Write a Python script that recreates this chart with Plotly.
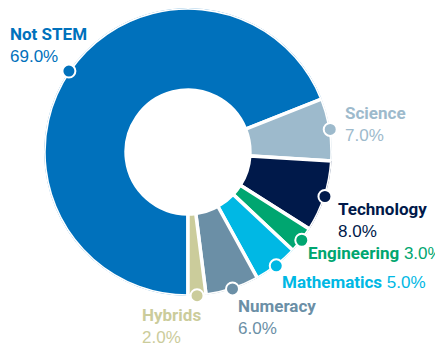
import numpy as np
import plotly.graph_objects as go

# data
labels = ["Not STEM", "Science", "Technology", "Engineering", "Mathematics", "Numeracy", "Hybrids"]
shares = [69.0, 7.0, 8.0, 3.0, 5.0, 6.0, 2.0]
colors = ["#0071bc", "#9dbacc", "#00194a", "#00a670", "#00b8e4", "#6b8fa6", "#cbcc9b"]

W, H = 443, 348
OFF = 8  # page body margin shifts the figure

# label layout: pixel (left, cap top) in the page, name + pct on one line or two
label_pos = [(10, 28), (345, 107), (338, 203), (308, 247), (282, 276), (238, 300), (142, 309)]
one_line = [False, False, False, True, True, False, False]

# angles (clockwise from top), pie starts at 6 o'clock
widths = np.array(shares) / 100 * 360
starts = 180 + np.concatenate([[0], np.cumsum(widths)[:-1]])
mids = (starts + widths / 2) % 360

hole = 0.43

fig = go.Figure()
fig.add_trace(go.Barpolar(
    theta=mids, width=widths, r=[1 - hole] * len(shares), base=hole,
    marker=dict(color=colors, line=dict(color="white", width=3.5)),
    hoverinfo="skip", showlegend=False,
))
fig.add_trace(go.Scatterpolar(
    theta=mids, r=[1] * len(shares), mode="markers", cliponaxis=False,
    marker=dict(color=colors, size=13, line=dict(color="white", width=2)),
    hoverinfo="skip", showlegend=False,
))

name_style = "font-family:Roboto, sans-serif;font-size:17px"
for name, val, col, (px, py), single in zip(labels, shares, colors, label_pos, one_line):
    sep = " " if single else "<br>"
    txt = f"<span style='{name_style}'><b>{name}</b></span>{sep}{val:.1f}%"
    fig.add_annotation(
        x=(px - OFF - 2) / W, y=1 - (py - OFF - 6) / H, xref="paper", yref="paper",
        xanchor="left", yanchor="top", align="left", showarrow=False,
        text=txt, font=dict(family="Liberation Sans", size=17, color=col),
    )

cx, cy, R = 188 - OFF, 152 - OFF, 144
fig.update_layout(
    width=W, height=H, margin=dict(l=0, r=0, t=0, b=0),
    paper_bgcolor="white", plot_bgcolor="white",
    polar=dict(
        domain=dict(x=[(cx - R) / W, (cx + R) / W], y=[1 - (cy + R) / H, min(1, 1 - (cy - R) / H)]),
        bgcolor="white", bargap=0,
        radialaxis=dict(visible=False, range=[0, 1]),
        angularaxis=dict(visible=False, rotation=90, direction="clockwise"),
    ),
)

fig.write_html("out.html")
